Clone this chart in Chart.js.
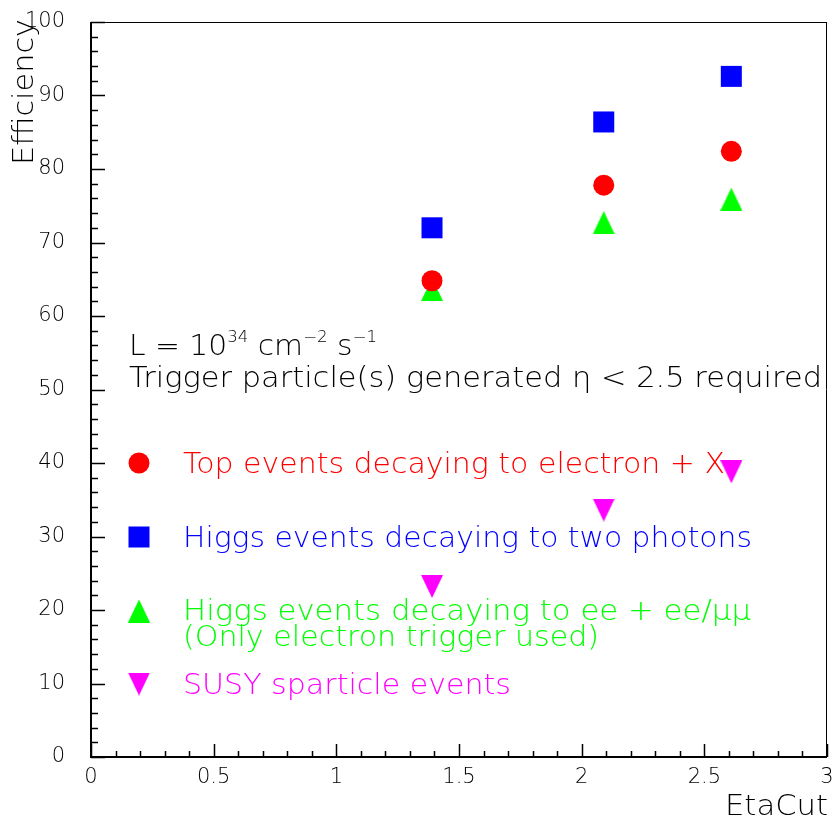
<!DOCTYPE html>
<html>
<head>
<meta charset="utf-8">
<script src="https://cdn.jsdelivr.net/npm/chart.js@4"></script>
<style>
  body { margin: 0; background: #fff; }
  #wrap { width: 836px; height: 821px; }
</style>
</head>
<body>
<div id="wrap"><canvas id="eff-chart" width="836" height="821"></canvas></div>
<script>
// Values
var etaCut = [1.39, 2.09, 2.61];
var topEff = [64.8, 77.8, 82.4];
var higgsGammaEff = [72.0, 86.4, 92.6];
var higgsLeptonEff = [63.6, 72.7, 75.9];
var susyEff = [23.2, 33.6, 38.8];
var xTicks = [0, 0.5, 1, 1.5, 2, 2.5, 3];
var yTicks = [0, 10, 20, 30, 40, 50, 60, 70, 80, 90, 100];

var FONT = '"DejaVu Sans", "Liberation Sans", sans-serif';

// ROOT style triangles are a bit taller than equilateral, so draw them on a small canvas
function makeTriangle(color, down) {
    var c = document.createElement('canvas');
    c.width = 22;
    c.height = 23;
    var g = c.getContext('2d');
    g.fillStyle = color;
    g.beginPath();
    if (down) {
        g.moveTo(0, 0); g.lineTo(22, 0); g.lineTo(11, 23);
    } else {
        g.moveTo(11, 0); g.lineTo(22, 23); g.lineTo(0, 23);
    }
    g.closePath();
    g.fill();
    return c;
}
var triUp = makeTriangle('#00ff00', false);
var triDown = makeTriangle('#ff00ff', true);

function toPoints(xs, ys) {
    return xs.map(function (x, i) { return { x: x, y: ys[i] }; });
}

// draw text made of pieces (superscripts), squeezed to a given width
function drawRich(ctx, parts, x, y, width, size) {
    var total = 0;
    parts.forEach(function (p) {
        ctx.font = '200 ' + (p.sup ? size * 0.56 : size) + 'px ' + FONT;
        p.w = ctx.measureText(p.t).width;
        total += p.w;
    });
    var k = width / total;
    ctx.save();
    ctx.translate(x, y);
    ctx.scale(k, 1);
    var cx = 0;
    parts.forEach(function (p) {
        ctx.font = '200 ' + (p.sup ? size * 0.56 : size) + 'px ' + FONT;
        ctx.fillText(p.t, cx, p.sup ? -size * 0.46 : 0);
        cx += p.w;
    });
    ctx.restore();
}

var decorPlugin = {
    id: 'decor',
    beforeDatasetsDraw: function (chart) {
        var ctx = chart.ctx;
        var a = chart.chartArea;
        var xs = chart.scales.x, ys = chart.scales.y;
        ctx.save();
        ctx.strokeStyle = '#000';

        // frame
        ctx.lineWidth = 1;
        ctx.beginPath();
        ctx.moveTo(a.left, a.top + 0.5); ctx.lineTo(a.right, a.top + 0.5);
        ctx.moveTo(a.right - 0.5, a.top); ctx.lineTo(a.right - 0.5, a.bottom);
        ctx.stroke();
        ctx.lineWidth = 2;
        ctx.beginPath();
        ctx.moveTo(a.left, a.top); ctx.lineTo(a.left, a.bottom);
        ctx.lineTo(a.right, a.bottom);
        ctx.stroke();

        // inward ticks, major + minor
        ctx.lineWidth = 1.5;
        ctx.beginPath();
        for (var i = 0; i <= 30; i++) {
            var px = Math.round(xs.getPixelForValue(i / 10)) + 0.5;
            var len = (i % 5 === 0) ? 13 : 6;
            ctx.moveTo(px, a.bottom); ctx.lineTo(px, a.bottom - len);
        }
        for (var j = 0; j <= 50; j++) {
            var py = Math.round(ys.getPixelForValue(j * 2)) + 0.5;
            var l2 = (j % 5 === 0) ? 14 : 7;
            ctx.moveTo(a.left, py); ctx.lineTo(a.left + l2, py);
        }
        ctx.stroke();

        // tick labels
        ctx.fillStyle = '#000';
        ctx.font = '200 21px ' + FONT;
        ctx.textAlign = 'center';
        ctx.textBaseline = 'alphabetic';
        xTicks.forEach(function (v) {
            ctx.fillText(String(v), xs.getPixelForValue(v), a.bottom + 26);
        });
        ctx.textAlign = 'right';
        ctx.textBaseline = 'middle';
        yTicks.forEach(function (v) {
            ctx.fillText(String(v), 65, ys.getPixelForValue(v));
        });
        ctx.restore();
    },
    afterDraw: function (chart) {
        var ctx = chart.ctx;
        ctx.save();
        ctx.textAlign = 'left';
        ctx.textBaseline = 'alphabetic';

        // axis titles
        ctx.fillStyle = '#000';
        ctx.save();
        ctx.translate(33, 165);
        ctx.rotate(-Math.PI / 2);
        drawRich(ctx, [{ t: 'Efficiency' }], 0, 0, 146, 28);
        ctx.restore();
        drawRich(ctx, [{ t: 'EtaCut' }], 725, 815, 103, 28);

        // luminosity / cut text
        drawRich(ctx, [
            { t: 'L = 10' }, { t: '34', sup: true }, { t: ' cm' }, { t: '\u22122', sup: true },
            { t: ' s' }, { t: '\u22121', sup: true }
        ], 129, 355, 248, 28);
        drawRich(ctx, [{ t: 'Trigger particle(s) generated \u03b7 < 2.5 required' }], 129, 387, 693, 28);

        // legend
        var lx = 139;
        ctx.fillStyle = '#ff0000';
        ctx.beginPath(); ctx.arc(lx, 463, 10.5, 0, Math.PI * 2); ctx.fill();
        drawRich(ctx, [{ t: 'Top events decaying to electron + X' }], 183, 473, 542, 28);

        ctx.fillStyle = '#0000ff';
        ctx.fillRect(lx - 10.5, 537 - 10.5, 21, 21);
        drawRich(ctx, [{ t: 'Higgs events decaying to two photons' }], 183, 547, 569, 28);

        ctx.drawImage(triUp, lx - 11, 611 - 11.5);
        ctx.fillStyle = '#00ff00';
        drawRich(ctx, [{ t: 'Higgs events decaying to ee + ee/\u03bc\u03bc' }], 183, 620, 568, 28);
        drawRich(ctx, [{ t: '(Only electron trigger used)' }], 183, 646, 416, 28);

        ctx.drawImage(triDown, lx - 11, 684 - 11.5);
        ctx.fillStyle = '#ff00ff';
        drawRich(ctx, [{ t: 'SUSY sparticle events' }], 183, 694, 328, 28);

        ctx.restore();
    }
};

var ctx = document.getElementById('eff-chart').getContext('2d');
var effChart = new Chart(ctx, {
    type: 'scatter',
    data: {
        datasets: [
            {
                label: 'Top events decaying to electron + X',
                data: toPoints(etaCut, topEff),
                pointStyle: 'circle',
                pointRadius: 10.5,
                pointHoverRadius: 10.5,
                backgroundColor: '#ff0000',
                borderWidth: 0
            },
            {
                label: 'Higgs events decaying to two photons',
                data: toPoints(etaCut, higgsGammaEff),
                pointStyle: 'rect',
                pointRadius: 14.85,
                pointHoverRadius: 14.85,
                backgroundColor: '#0000ff',
                borderWidth: 0
            },
            {
                label: 'Higgs events decaying to ee + ee/\u03bc\u03bc',
                data: toPoints(etaCut, higgsLeptonEff),
                pointStyle: triUp,
                backgroundColor: '#00ff00',
                borderWidth: 0
            },
            {
                label: 'SUSY sparticle events',
                data: toPoints(etaCut, susyEff),
                pointStyle: triDown,
                backgroundColor: '#ff00ff',
                borderWidth: 0
            }
        ]
    },
    options: {
        responsive: false,
        animation: false,
        layout: { autoPadding: false, padding: { top: 22, right: 9, left: 0, bottom: 0 } },
        plugins: {
            legend: { display: false },
            tooltip: { enabled: false }
        },
        scales: {
            x: {
                type: 'linear',
                min: 0,
                max: 3,
                afterFit: function (s) { s.height = 64; },
                grid: { display: false, drawTicks: false },
                border: { display: false },
                ticks: { display: false }
            },
            y: {
                type: 'linear',
                min: 0,
                max: 100,
                afterFit: function (s) { s.width = 91; },
                grid: { display: false, drawTicks: false },
                border: { display: false },
                ticks: { display: false }
            }
        }
    },
    plugins: [decorPlugin]
});
</script>
</body>
</html>
